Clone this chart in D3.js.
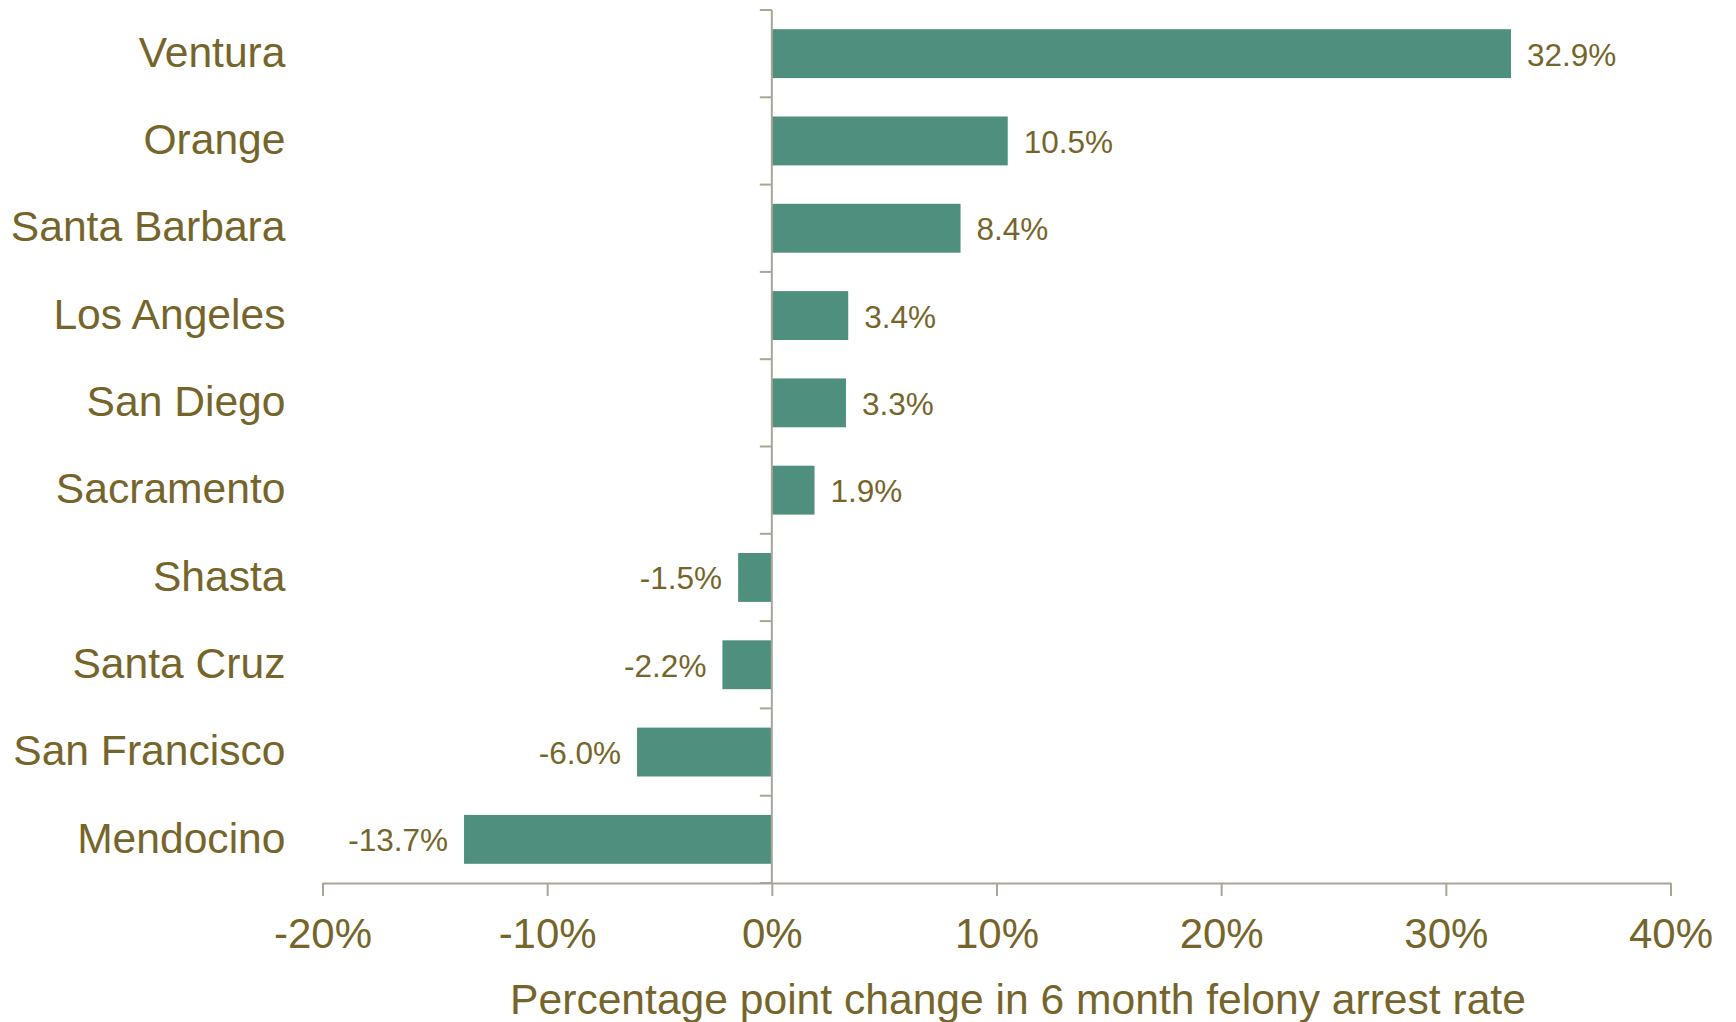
<!DOCTYPE html>
<html>
<head>
<meta charset="utf-8">
<style>
    body { margin: 0; background: white; }
    svg { display: block; font-family: 'Liberation Sans', Arial, sans-serif; }
    .x .domain { stroke: #aaa595; stroke-width: 2px; }
    .x .tick line { stroke: #aaa595; stroke-width: 2px; }
    .x .tick text { font-size: 42px; fill: #76652a; }
</style>
</head>
<body>
<svg width="1736" height="1022"></svg>

<script src="https://d3js.org/d3.v7.min.js"></script>
<script>
    // counties, top to bottom
    let counties = ["Ventura", "Orange", "Santa Barbara", "Los Angeles", "San Diego",
        "Sacramento", "Shasta", "Santa Cruz", "San Francisco", "Mendocino"];
    // percentage point change in 6 month felony arrest rate
    let changes = [32.9, 10.5, 8.4, 3.4, 3.3, 1.9, -1.5, -2.2, -6.0, -13.7];
    let xTicks = [-20, -10, 0, 10, 20, 30, 40];

    let data = counties.map((c, i) => ({ county: c, value: changes[i] }));

    let textColor = "#76652a";
    let axisColor = "#aaa595";

    let svg = d3.select("svg");

    let x = d3.scaleLinear()
        .domain([-20, 40])
        .range([322.5, 1670.5]);

    let y = d3.scaleBand()
        .domain(counties)
        .range([10, 883])
        .paddingInner(0.44)
        .paddingOuter(0.22);

    // bars
    svg.selectAll(".bar")
        .data(data)
        .join("rect")
        .attr("class", "bar")
        .attr("x", d => x(Math.min(0, d.value)))
        .attr("y", d => y(d.county))
        .attr("width", d => Math.abs(x(d.value) - x(0)))
        .attr("height", y.bandwidth())
        .style("fill", "#4f8f7e");

    // x axis
    let xAxis = d3.axisBottom(x)
        .tickValues(xTicks)
        .tickSize(13)
        .tickSizeOuter(0)
        .tickPadding(22)
        .tickFormat(d => d + "%");

    svg.append("g")
        .attr("class", "x axis")
        .attr("transform", "translate(0,883)")
        .call(xAxis);

    // vertical axis at zero with ticks between categories
    let bounds = d3.range(counties.length + 1).map(i => y.range()[0] + i * y.step());

    svg.append("line")
        .attr("x1", x(0)).attr("x2", x(0))
        .attr("y1", bounds[0]).attr("y2", bounds[bounds.length - 1])
        .style("stroke", axisColor)
        .style("stroke-width", 2);

    svg.selectAll(".ytick")
        .data(bounds)
        .join("line")
        .attr("class", "ytick")
        .attr("x1", x(0) - 12).attr("x2", x(0))
        .attr("y1", d => d).attr("y2", d => d)
        .style("stroke", axisColor)
        .style("stroke-width", 2);

    // county labels
    svg.selectAll(".cat")
        .data(data)
        .join("text")
        .attr("class", "cat")
        .attr("x", 285.5)
        .attr("y", d => y(d.county) + y.bandwidth() / 2)
        .attr("dy", "0.31em")
        .attr("text-anchor", "end")
        .attr("fill", textColor)
        .attr("font-size", "42.6px")
        .text(d => d.county);

    // value labels
    svg.selectAll(".val")
        .data(data)
        .join("text")
        .attr("class", "val")
        .attr("x", d => d.value >= 0 ? x(d.value) + 16 : x(d.value) - 16)
        .attr("y", d => y(d.county) + y.bandwidth() / 2)
        .attr("dy", "0.38em")
        .attr("text-anchor", d => d.value >= 0 ? "start" : "end")
        .attr("fill", textColor)
        .attr("font-size", "31.5px")
        .text(d => d.value.toFixed(1) + "%");

    // axis title
    svg.append("text")
        .attr("x", 1018)
        .attr("y", 1014)
        .attr("text-anchor", "middle")
        .attr("fill", textColor)
        .attr("font-size", "42.6px")
        .text("Percentage point change in 6 month felony arrest rate");
</script>
</body>
</html>
